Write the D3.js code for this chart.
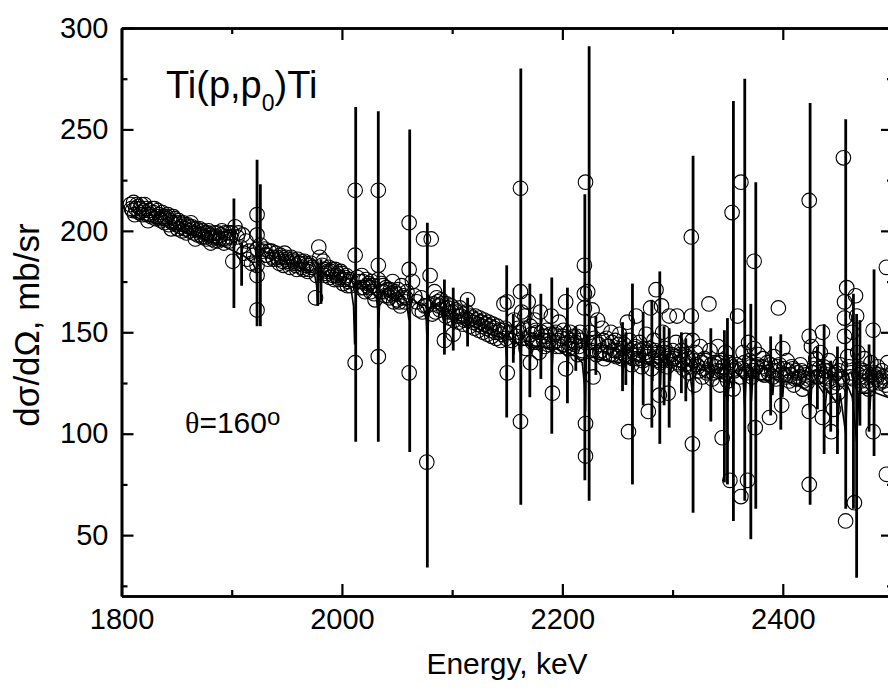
<!DOCTYPE html>
<html>
<head>
<meta charset="utf-8">
<script src="https://cdnjs.cloudflare.com/ajax/libs/d3/7.8.5/d3.min.js"></script>
<style>
  body { margin: 0; background: #fff; }
  text { font-family: "Liberation Sans", Arial, sans-serif; fill: #000; }
  .axis path, .axis line { stroke: #000; }
</style>
</head>
<body>
<script>
var svgWidth = 888;
var svgHeight = 693;

var margin = { top: 28, left: 121.5 };
var width = 771.5;
var height = 568;

// tick values
var xMajorTicks = [1800, 2000, 2200, 2400];
var xMinorTicks = [1900, 2100, 2300, 2500];
var yMajorTicks = [50, 100, 150, 200, 250, 300];
var yMinorTicks = [25, 75, 125, 175, 225, 275];

// measured points (energy in keV, cross section in mb/sr)
var energy = [
  1808, 1810, 1811, 1813, 1815, 1816, 1818, 1820, 1822, 1823, 1824, 1825,
  1827, 1829, 1830, 1832, 1834, 1836, 1838, 1840, 1842, 1844, 1845, 1846,
  1848, 1850, 1852, 1854, 1856, 1858, 1860, 1862, 1864, 1866, 1867, 1868,
  1870, 1872, 1874, 1876, 1878, 1880, 1881, 1882, 1884, 1886, 1888, 1890,
  1892, 1894, 1896, 1898, 1900, 1901, 1903, 1905, 1906, 1908, 1910, 1911,
  1913, 1914, 1916, 1918, 1920, 1923, 1923, 1923, 1923, 1923, 1923, 1926,
  1928, 1930, 1932, 1934, 1937, 1940, 1942, 1944, 1946, 1948, 1950, 1952,
  1954, 1956, 1958, 1960, 1962, 1964, 1966, 1968, 1970, 1972, 1973, 1976,
  1977, 1979, 1980, 1982, 1984, 1986, 1988, 1990, 1992, 1994, 1996, 1998,
  2000, 2002, 2004, 2006, 2008, 2012, 2012, 2012, 2014, 2016, 2018, 2020,
  2022, 2024, 2026, 2028, 2030, 2033, 2033, 2033, 2033, 2036, 2038, 2040,
  2042, 2044, 2046, 2048, 2050, 2052, 2054, 2056, 2058, 2061, 2061, 2061,
  2064, 2066, 2068, 2070, 2072, 2073, 2074, 2075, 2077, 2077, 2080, 2081,
  2082, 2084, 2086, 2088, 2090, 2092, 2093, 2095, 2097, 2099, 2101, 2103,
  2105, 2107, 2109, 2111, 2113, 2114, 2115, 2117, 2119, 2121, 2123, 2125,
  2127, 2129, 2131, 2133, 2135, 2137, 2139, 2141, 2143, 2145, 2147, 2148,
  2150, 2150, 2152, 2154, 2156, 2158, 2160, 2162, 2162, 2162, 2163, 2164,
  2166, 2167, 2169, 2171, 2171, 2173, 2175, 2177, 2179, 2180, 2182, 2184,
  2186, 2188, 2190, 2191, 2193, 2195, 2197, 2199, 2201, 2203, 2203, 2205,
  2207, 2209, 2210, 2212, 2214, 2216, 2218, 2220, 2220, 2220, 2221, 2221,
  2221, 2223, 2225, 2227, 2228, 2230, 2232, 2234, 2236, 2238, 2240, 2242,
  2244, 2246, 2248, 2250, 2252, 2254, 2256, 2258, 2259, 2260, 2261, 2263,
  2265, 2267, 2268, 2270, 2272, 2274, 2276, 2278, 2278, 2280, 2281, 2283,
  2285, 2286, 2288, 2288, 2290, 2291, 2293, 2295, 2296, 2297, 2299, 2301,
  2303, 2304, 2306, 2308, 2310, 2312, 2313, 2315, 2317, 2317, 2318, 2318,
  2320, 2321, 2323, 2325, 2327, 2329, 2331, 2333, 2334, 2336, 2338, 2340,
  2341, 2343, 2345, 2345, 2347, 2348, 2350, 2352, 2353, 2354, 2355, 2357,
  2359, 2361, 2362, 2362, 2364, 2366, 2368, 2369, 2370, 2372, 2374, 2374,
  2375, 2376, 2378, 2380, 2382, 2384, 2386, 2388, 2390, 2392, 2394, 2396,
  2397, 2399, 2400, 2402, 2404, 2406, 2408, 2410, 2412, 2414, 2416, 2418,
  2420, 2422, 2424, 2424, 2424, 2424, 2426, 2428, 2430, 2432, 2434, 2436,
  2436, 2438, 2440, 2442, 2444, 2445, 2446, 2448, 2450, 2452, 2454, 2455,
  2456, 2456, 2456, 2457, 2458, 2459, 2461, 2463, 2465, 2466, 2467, 2468,
  2470, 2472, 2474, 2476, 2478, 2480, 2482, 2482, 2484, 2486, 2488, 2490,
  2492, 2494, 2494, 2495, 2497, 2499,
  // in-between readings of the dense band
  1809, 1812, 1814, 1817, 1819, 1821, 1826, 1828, 1831, 1833, 1835, 1837,
  1839, 1841, 1843, 1847, 1849, 1851, 1853, 1855, 1857, 1859, 1861, 1863,
  1865, 1869, 1871, 1873, 1875, 1877, 1879, 1883, 1885, 1887, 1889, 1891,
  1893, 1895, 1897, 1899,
  1931, 1933, 1936, 1938, 1941, 1943, 1945, 1947, 1949, 1951, 1953, 1955,
  1957, 1959, 1961, 1963, 1965, 1967, 1969, 1971, 1983, 1985, 1987, 1989,
  1991, 1993, 1995, 1997, 1999, 2001, 2003, 2005, 2007,
  2017, 2019, 2021, 2023, 2025, 2027, 2029, 2035, 2037, 2039, 2041, 2043,
  2045, 2047, 2049, 2051, 2053, 2055, 2057, 2059,
  2083, 2085, 2087, 2089, 2091, 2094, 2096, 2098, 2100, 2102, 2104, 2106,
  2108, 2110, 2112, 2116, 2118, 2120, 2122, 2124, 2126, 2128, 2130, 2132,
  2134, 2136, 2138, 2140, 2142, 2144, 2146, 2149,
  2161, 2165, 2168, 2172, 2174, 2176, 2178, 2181, 2183, 2185, 2187, 2189,
  2192, 2194, 2196, 2198, 2200, 2202, 2204, 2206, 2208, 2211, 2213, 2215,
  2217, 2219, 2224, 2226, 2229, 2231, 2233, 2235, 2237, 2239, 2241, 2243,
  2245, 2247, 2249, 2251, 2253, 2255, 2257, 2262, 2264, 2266, 2269, 2271,
  2273, 2275, 2277, 2279, 2282, 2284, 2287, 2289, 2292, 2294, 2298, 2300,
  2302, 2305, 2307, 2309, 2311, 2314, 2316, 2319, 2322, 2324, 2326, 2328,
  2330, 2332, 2335, 2337, 2339, 2342, 2344, 2346, 2349, 2351, 2356, 2358,
  2363, 2365, 2367, 2371, 2373, 2377, 2379, 2381, 2383, 2385, 2387, 2389,
  2391, 2393, 2395, 2398, 2401, 2403, 2405, 2407, 2409, 2411, 2413, 2415,
  2417, 2419, 2421, 2423, 2427, 2429, 2431, 2433, 2435, 2437, 2439, 2441,
  2443, 2447, 2449, 2451, 2453, 2460, 2462, 2464, 2469, 2471, 2473, 2475,
  2477, 2479, 2481, 2483, 2485, 2487, 2489, 2491, 2493, 2496, 2498
];
var sigma = [
  213, 210, 214, 211, 212, 209, 213, 210, 211, 208, 205, 210,
  207, 209, 211, 207, 208, 205, 207, 206, 208, 205, 201, 204,
  206, 203, 205, 202, 204, 201, 203, 200, 202, 199, 196, 201,
  200, 198, 200, 197, 199, 198, 194, 196, 199, 197, 195, 198,
  196, 199, 197, 195, 199, 185, 202, 197, 199, 192, 198, 189,
  195, 186, 190, 184, 188, 208, 198, 191, 183, 178, 161, 193,
  190, 191, 188, 190, 187, 189, 186, 188, 185, 189, 186, 184,
  187, 185, 183, 186, 184, 182, 185, 183, 181, 184, 182, 167,
  178, 192, 187, 183, 181, 179, 182, 180, 178, 181, 179, 177,
  179, 176, 178, 175, 173, 220, 188, 135, 177, 175, 178, 172,
  176, 174, 170, 173, 166, 220, 183, 176, 138, 174, 170, 172,
  168, 171, 175, 170, 166, 165, 173, 168, 167, 204, 181, 130,
  175, 168, 165, 161, 167, 160, 196, 163, 163, 86, 178, 196,
  159, 170, 167, 163, 166, 162, 146, 164, 160, 163, 149, 161,
  158, 162, 159, 156, 160, 166, 156, 158, 155, 158, 154, 157,
  153, 156, 152, 155, 151, 154, 150, 153, 151, 149, 164, 152,
  130, 165, 150, 146, 156, 148, 152, 221, 170, 106, 160, 147,
  158, 142, 165, 135, 153, 145, 156, 150, 140, 160, 148, 143,
  151, 146, 158, 120, 149, 143, 155, 147, 151, 132, 165, 145,
  150, 142, 148, 145, 139, 150, 141, 183, 169, 162, 224, 105,
  89, 170, 150, 161, 128, 145, 156, 140, 152, 137, 147, 143,
  150, 139, 146, 141, 149, 137, 144, 138, 155, 101, 146, 134,
  142, 158, 137, 145, 133, 142, 149, 111, 139, 162, 132, 146,
  171, 140, 119, 136, 163, 150, 142, 133, 120, 158, 139, 137,
  145, 158, 134, 141, 132, 146, 138, 130, 197, 158, 146, 95,
  124, 140, 133, 143, 128, 137, 130, 164, 141, 127, 135, 131,
  143, 124, 98, 136, 129, 140, 126, 77, 134, 209, 122, 132,
  158, 128, 224, 69, 140, 131, 77, 145, 136, 128, 185, 142,
  103, 133, 139, 130, 137, 129, 135, 108, 131, 138, 127, 162,
  134, 114, 142, 129, 136, 126, 133, 124, 131, 127, 134, 122,
  130, 125, 215, 148, 111, 75, 143, 132, 137, 128, 140, 150,
  108, 131, 126, 136, 101, 123, 112, 130, 120, 134, 127, 236,
  165, 157, 148, 57, 172, 138, 128, 150, 66, 168, 158, 140,
  132, 124, 137, 130, 122, 135, 151, 101, 128, 133, 125, 131,
  126, 182, 80, 135, 122, 130,
  // in-between readings of the dense band
  211, 208, 213, 211, 208, 213, 208, 211, 206, 210, 206, 209,
  204, 207, 203, 207, 204, 201, 204, 200, 203, 199, 202, 204,
  201, 198, 201, 197, 199, 196, 200, 197, 195, 199, 196, 200,
  194, 196, 199, 197,
  188, 186, 190, 186, 187, 184, 187, 183, 187, 185, 182, 186,
  184, 181, 184, 185, 181, 184, 180, 183, 185, 178, 180, 177,
  181, 176, 178, 176, 180, 174, 177, 173, 176,
  172, 175, 170, 173, 172, 175, 169, 170, 173, 168, 171, 167,
  169, 165, 169, 171, 163, 167, 165, 170,
  164, 160, 165, 161, 164, 158, 162, 157, 160, 156, 160, 155,
  158, 154, 157, 153, 157, 152, 156, 151, 155, 150, 154, 149,
  153, 148, 152, 147, 150, 146, 151, 147,
  150, 152, 147, 149, 146, 151, 145, 150, 146, 148, 144, 149,
  145, 150, 146, 143, 148, 144, 147, 142, 146, 144, 148, 143,
  146, 140, 145, 141, 147, 139, 144, 141, 146, 140, 143, 139,
  145, 141, 138, 144, 140, 142, 139, 141, 137, 143, 139, 141,
  136, 140, 138, 142, 137, 141, 138, 135, 140, 137, 136, 141,
  138, 135, 139, 136, 134, 137, 133, 136, 134, 131, 135, 132,
  136, 131, 134, 130, 133, 135, 131, 133, 130, 135, 131, 134,
  132, 135, 130, 133, 131, 134, 130, 133, 129, 132, 130, 134,
  128, 131, 133, 129, 132, 128, 131, 129, 132, 127, 130, 128,
  131, 126, 129, 127, 130, 134, 128, 132, 129, 133, 128, 131,
  127, 129, 125, 131, 128, 133, 130, 127, 129, 126, 131, 128,
  126, 129, 125, 130, 127, 129, 126, 128, 124, 127, 129
];

// error bars that show outside the circles
var barEnergy = [1902, 1909, 1923, 1926, 1978, 1981, 2012.5, 2033, 2061.5, 2077.5,
  2093, 2101, 2114, 2149.5, 2155.5, 2162.3, 2170.5, 2180.5, 2190.4, 2204.6, 2212.2,
  2220.4, 2224.3, 2230.4, 2254.6, 2257.6, 2263.6, 2273.3, 2281.2, 2288.4, 2292.3, 2296.9,
  2308, 2312, 2318.6, 2334.7, 2347, 2349.8, 2355.2, 2365.5, 2371, 2375.5, 2389, 2398.2,
  2424.8, 2431.4, 2437.5, 2443.5, 2449.6, 2457.1, 2464.1, 2467, 2470, 2478.3, 2482.8];
var barLow = [162, 173, 153, 153, 163, 164, 96, 96, 91, 34,
  139, 141, 143, 108, 135, 65, 118, 127, 100, 115, 131,
  77, 67, 129, 121, 124, 75, 114, 103, 95, 114, 103,
  120, 116, 61, 106, 76, 75, 57, 67, 48, 63, 109, 102,
  65, 112, 90, 101, 90, 63, 63, 29, 104, 101, 89];
var barHigh = [216, 194, 235, 223, 184, 186, 261, 259, 250, 204,
  176, 172, 167, 183, 159, 280, 174, 169, 177, 172, 153,
  218, 291, 158, 155, 150, 174, 160, 166, 180, 153, 152,
  150, 147, 237, 152, 151, 157, 264, 275, 164, 224, 148, 149,
  263, 143, 154, 136, 143, 255, 169, 159, 156, 144, 181];

// R-matrix fit curve
var fitEnergy = [1808, 1830, 1850, 1870, 1890, 1900, 1910, 1918, 1921, 1922.5, 1923.5, 1926,
  1935, 1950, 1965, 1975, 1977, 1978, 1979, 1982, 1995, 2008, 2010.5, 2011.5, 2012.5, 2014.5,
  2025, 2031, 2032.5, 2033.3, 2034.3, 2036.5, 2050, 2059, 2060.8, 2061.8, 2064, 2074, 2076.5,
  2077.6, 2078.6, 2081, 2090, 2092.5, 2093.3, 2094.3, 2100.5, 2101.5, 2102.5, 2113, 2114, 2115,
  2130, 2145, 2148.5, 2149.5, 2150.5, 2155, 2156, 2157, 2161.5, 2162.3, 2163.3, 2166, 2170,
  2171, 2172, 2180, 2181, 2182, 2190, 2190.8, 2191.8, 2200, 2204, 2205, 2206, 2212, 2218, 2220,
  2221, 2222, 2224.5, 2230, 2240, 2254, 2255, 2256, 2263, 2264, 2265, 2272, 2273, 2274, 2281,
  2282, 2283, 2288, 2289, 2290, 2297, 2298, 2299, 2312, 2316, 2318.3, 2319.5, 2325, 2334, 2335,
  2336, 2346, 2348, 2350, 2352, 2355, 2356, 2364, 2365.5, 2367, 2370, 2371.5, 2373, 2376, 2390,
  2391, 2392, 2399, 2400, 2401, 2415, 2423, 2424.8, 2426.5, 2432, 2437, 2438, 2440, 2444, 2449,
  2450, 2452, 2457.1, 2458.5, 2463, 2465, 2467, 2469, 2478, 2479, 2480, 2490, 2500];
var fitSigma = [207.5, 204, 200.5, 197, 193, 190.5, 188, 185, 182, 179, 194, 191.5,
  188, 184.5, 181.5, 179, 173, 165, 177, 179, 176, 172.5, 163, 144, 166, 174,
  171, 168, 161, 152, 166, 170, 166, 163, 156, 164, 166.5, 162, 156,
  140, 158, 164, 160, 156, 150, 159, 156, 151, 157, 154, 149, 154,
  150, 147, 144, 137, 149, 146, 139, 146, 143, 130, 150, 145, 143,
  137, 144, 142, 137, 143, 141, 133, 143, 140, 138, 131, 140, 138, 135, 124,
  111, 148, 139, 137, 136, 135, 130, 136, 134, 124, 137, 135, 128, 135, 134,
  126, 136, 134, 124, 137, 133, 126, 134, 132, 129, 118, 137, 132, 130, 124,
  131, 129, 120, 116, 128, 121, 131, 127, 112, 131, 128, 116, 129, 127, 126,
  119, 127, 126, 118, 126, 124, 121, 108, 126, 124, 120, 110, 122, 119, 115,
  106, 120, 100, 124, 118, 108, 96, 120, 120, 112, 121, 119, 117];

var svg = d3.select("body")
  .append("svg")
  .attr("width", svgWidth)
  .attr("height", svgHeight);

var chartGroup = svg.append("g")
  .attr("transform", `translate(${margin.left}, ${margin.top})`);

var xScale = d3.scaleLinear().domain([1800, 2500]).range([0, width]);
var yScale = d3.scaleLinear().domain([20, 300]).range([height, 0]);

chartGroup.append("clipPath").attr("id", "plotClip")
  .append("rect").attr("width", width).attr("height", height);

var plot = chartGroup.append("g").attr("clip-path", "url(#plotClip)");

// fit curve
var fitLine = d3.line()
  .x((d, i) => xScale(fitEnergy[i]))
  .y(d => yScale(d));

plot.append("path")
  .datum(fitSigma)
  .attr("d", fitLine)
  .attr("fill", "none")
  .attr("stroke", "#000")
  .attr("stroke-width", 1.6);

// error bars
plot.selectAll(".err")
  .data(barEnergy)
  .enter()
  .append("line")
  .attr("class", "err")
  .attr("x1", d => xScale(d))
  .attr("x2", d => xScale(d))
  .attr("y1", (d, i) => yScale(barLow[i]))
  .attr("y2", (d, i) => yScale(barHigh[i]))
  .attr("stroke", "#000")
  .attr("stroke-width", 2.8);

// circles
plot.selectAll("circle")
  .data(energy)
  .enter()
  .append("circle")
  .attr("cx", d => xScale(d))
  .attr("cy", (d, i) => yScale(sigma[i]))
  .attr("r", 7.3)
  .attr("fill", "none")
  .attr("stroke", "#000")
  .attr("stroke-width", 1.1);

// axes, ticks pointing inward
function styleAxis(g) {
  g.attr("class", "axis");
  g.select(".domain").attr("stroke-width", 2.6);
  g.selectAll(".tick line").attr("stroke-width", 2.2);
  g.selectAll("text").style("font-size", "29px");
}

var fmt = d3.format("d");

chartGroup.append("g")
  .attr("transform", `translate(0, ${height})`)
  .call(d3.axisBottom(xScale).tickValues(xMajorTicks).tickFormat(fmt).tickSize(-12).tickSizeOuter(0).tickPadding(12))
  .call(styleAxis);
chartGroup.append("g")
  .attr("transform", `translate(0, ${height})`)
  .call(d3.axisBottom(xScale).tickValues(xMinorTicks).tickSize(-6).tickSizeOuter(0).tickFormat(""))
  .call(styleAxis);

chartGroup.append("g")
  .call(d3.axisTop(xScale).tickValues(xMajorTicks).tickSize(-12).tickSizeOuter(0).tickFormat(""))
  .call(styleAxis);
chartGroup.append("g")
  .call(d3.axisTop(xScale).tickValues(xMinorTicks).tickSize(-6).tickSizeOuter(0).tickFormat(""))
  .call(styleAxis);

chartGroup.append("g")
  .call(d3.axisLeft(yScale).tickValues(yMajorTicks).tickFormat(fmt).tickSize(-12).tickSizeOuter(0).tickPadding(13))
  .call(styleAxis);
chartGroup.append("g")
  .call(d3.axisLeft(yScale).tickValues(yMinorTicks).tickSize(-6).tickSizeOuter(0).tickFormat(""))
  .call(styleAxis);

chartGroup.append("g")
  .attr("transform", `translate(${width}, 0)`)
  .call(d3.axisRight(yScale).tickValues(yMajorTicks).tickSize(-12).tickSizeOuter(0).tickFormat(""))
  .call(styleAxis);
chartGroup.append("g")
  .attr("transform", `translate(${width}, 0)`)
  .call(d3.axisRight(yScale).tickValues(yMinorTicks).tickSize(-6).tickSizeOuter(0).tickFormat(""))
  .call(styleAxis);

// axis titles
svg.append("text")
  .attr("x", 507)
  .attr("y", 674)
  .attr("text-anchor", "middle")
  .style("font-size", "30px")
  .text("Energy, keV");

svg.append("text")
  .attr("transform", "translate(39, 325) rotate(-90)")
  .attr("text-anchor", "middle")
  .style("font-size", "35px")
  .text("dσ/dΩ, mb/sr");

// annotations
var title = svg.append("text")
  .attr("x", 166)
  .attr("y", 98)
  .style("font-size", "38px");
title.append("tspan").text("Ti(p,p");
title.append("tspan").attr("dy", 13).style("font-size", "23px").text("0");
title.append("tspan").attr("dy", -13).text(")Ti");

var angle = svg.append("text")
  .attr("x", 185)
  .attr("y", 433)
  .style("font-size", "30px");
angle.append("tspan").style("font-family", "'Liberation Serif', serif").text("θ");
angle.append("tspan").text("=160");
angle.append("tspan").attr("dy", -8).style("font-size", "24px").text("o");
</script>
</body>
</html>
